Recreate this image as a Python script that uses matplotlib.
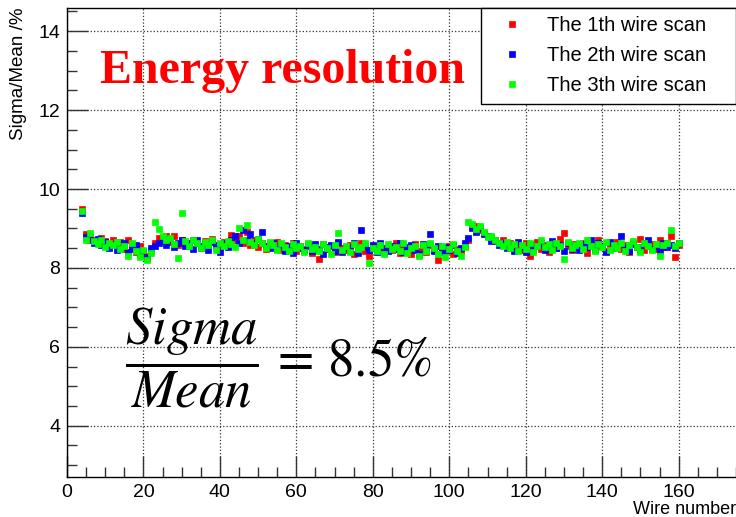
import numpy as np
import matplotlib
matplotlib.use("Agg")
from matplotlib import pyplot as plt
from matplotlib.ticker import MultipleLocator

wires = np.arange(4, 161)

scan1 = [9.50, 8.85, 8.78, 8.70, 8.62, 8.75, 8.68, 8.55, 8.72, 8.60,
         8.65, 8.48, 8.70, 8.52, 8.40, 8.55, 8.35, 8.30, 8.42, 8.62,
         8.75, 8.70, 8.82, 8.66, 8.80, 8.58, 8.72, 8.64, 8.55, 8.70,
         8.62, 8.50, 8.68, 8.58, 8.74, 8.52, 8.60, 8.66, 8.55, 8.84,
         8.72, 8.80, 8.64, 8.90, 8.58, 8.70, 8.52, 8.62, 8.48, 8.60,
         8.55, 8.66, 8.45, 8.58, 8.50, 8.62, 8.42, 8.56, 8.48, 8.60,
         8.38, 8.52, 8.23, 8.60, 8.48, 8.56, 8.40, 8.62, 8.50, 8.45,
         8.58, 8.35, 8.52, 8.64, 8.42, 8.30, 8.55, 8.48, 8.60, 8.40,
         8.52, 8.45, 8.62, 8.38, 8.56, 8.48, 8.35, 8.60, 8.44, 8.52,
         8.40, 8.58, 8.46, 8.19, 8.50, 8.42, 8.55, 8.36, 8.48, 8.44,
         8.56, 8.70, 9.10, 9.05, 8.95, 8.88, 8.80, 8.75, 8.68, 8.62,
         8.70, 8.55, 8.64, 8.50, 8.58, 8.45, 8.62, 8.30, 8.52, 8.66,
         8.48, 8.58, 8.40, 8.62, 8.50, 8.74, 8.88, 8.56, 8.45, 8.60,
         8.52, 8.64, 8.38, 8.58, 8.46, 8.70, 8.55, 8.42, 8.60, 8.50,
         8.66, 8.48, 8.58, 8.40, 8.62, 8.52, 8.74, 8.45, 8.56, 8.60,
         8.48, 8.70, 8.52, 8.62, 8.82, 8.27, 8.58]

scan2 = [9.40, 8.78, 8.70, 8.62, 8.74, 8.58, 8.66, 8.50, 8.60, 8.45,
         8.55, 8.62, 8.40, 8.48, 8.58, 8.35, 8.44, 8.26, 8.50, 8.55,
         8.62, 8.68, 8.58, 8.74, 8.52, 8.64, 8.70, 8.56, 8.62, 8.48,
         8.70, 8.55, 8.60, 8.45, 8.66, 8.58, 8.40, 8.62, 8.54, 8.72,
         8.80, 8.64, 8.96, 8.70, 8.85, 8.62, 8.74, 8.90, 8.56, 8.50,
         8.62, 8.48, 8.58, 8.44, 8.55, 8.38, 8.62, 8.50, 8.46, 8.56,
         8.42, 8.60, 8.48, 8.36, 8.52, 8.58, 8.44, 8.66, 8.40, 8.54,
         8.50, 8.62, 8.38, 8.96, 8.55, 8.46, 8.58, 8.40, 8.64, 8.50,
         8.44, 8.56, 8.48, 8.62, 8.40, 8.52, 8.58, 8.45, 8.36, 8.60,
         8.50, 8.87, 8.44, 8.56, 8.40, 8.52, 8.46, 8.58, 8.38, 8.50,
         8.62, 8.75, 9.00, 8.90, 9.02, 8.85, 8.80, 8.68, 8.72, 8.58,
         8.62, 8.50, 8.58, 8.44, 8.66, 8.52, 8.40, 8.60, 8.48, 8.56,
         8.62, 8.45, 8.55, 8.68, 8.50, 8.58, 8.42, 8.64, 8.48, 8.55,
         8.45, 8.60, 8.52, 8.70, 8.48, 8.62, 8.56, 8.40, 8.66, 8.52,
         8.58, 8.82, 8.50, 8.44, 8.60, 8.54, 8.46, 8.62, 8.70, 8.48,
         8.56, 8.44, 8.62, 8.52, 8.58, 8.50, 8.62]

scan3 = [9.45, 8.72, 8.88, 8.68, 8.60, 8.70, 8.52, 8.64, 8.58, 8.66,
         8.48, 8.56, 8.30, 8.62, 8.42, 8.28, 8.46, 8.20, 8.38, 9.16,
         8.98, 8.80, 8.70, 8.76, 8.60, 8.25, 9.40, 8.68, 8.56, 8.72,
         8.62, 8.50, 8.66, 8.58, 8.70, 8.46, 8.62, 8.55, 8.68, 8.60,
         8.52, 9.02, 8.72, 9.08, 8.66, 8.58, 8.74, 8.62, 8.50, 8.66,
         8.58, 8.46, 8.62, 8.52, 8.44, 8.60, 8.50, 8.56, 8.40, 8.62,
         8.48, 8.54, 8.42, 8.60, 8.50, 8.36, 8.58, 8.88, 8.46, 8.55,
         8.40, 8.60, 8.48, 8.52, 8.62, 8.12, 8.50, 8.44, 8.58, 8.36,
         8.60, 8.48, 8.54, 8.42, 8.62, 8.38, 8.50, 8.56, 8.30, 8.58,
         8.44, 8.62, 8.50, 8.36, 8.55, 8.28, 8.48, 8.60, 8.42, 8.30,
         8.52, 9.17, 9.12, 8.98, 9.05, 8.92, 8.78, 8.82, 8.70, 8.62,
         8.56, 8.66, 8.50, 8.60, 8.42, 8.58, 8.48, 8.64, 8.40, 8.55,
         8.70, 8.52, 8.60, 8.46, 8.62, 8.56, 8.23, 8.66, 8.50, 8.58,
         8.62, 8.48, 8.70, 8.55, 8.42, 8.60, 8.52, 8.66, 8.46, 8.58,
         8.50, 8.64, 8.44, 8.58, 8.68, 8.52, 8.40, 8.62, 8.55, 8.46,
         8.60, 8.30, 8.58, 8.62, 8.96, 8.55, 8.64]

labels = ["The 1th wire scan", "The 2th wire scan", "The 3th wire scan"]
colors = ["#ff0000", "#0000ff", "#00ff00"]

plt.rcParams['font.family'] = ['Liberation Sans', 'DejaVu Sans']
plt.rcParams['mathtext.fontset'] = 'stix'

fig = plt.figure(figsize=(7.36, 5.17), dpi=100)
ax = fig.add_axes([0.091, 0.0774, 0.909, 0.908])

for ys, c, lab in zip([scan1, scan2, scan3], colors, labels):
    ax.plot(wires, ys, ls='none', marker='s', ms=4.8, mec=c, mfc=c,
            mew=0.5, label=lab)

ax.set_xlim(0, 175)
ax.set_ylim(2.7, 14.6)
ax.xaxis.set_major_locator(MultipleLocator(20))
ax.xaxis.set_minor_locator(MultipleLocator(5))
ax.yaxis.set_major_locator(MultipleLocator(2))
ax.yaxis.set_minor_locator(MultipleLocator(0.5))
ax.tick_params(which='both', direction='in', top=False, right=False,
               labelsize=14, color='#333333')
ax.tick_params(which='major', length=15, width=1.0, pad=5)
ax.tick_params(which='minor', length=7.5, width=1.0)
ax.grid(True, which='major', ls=':', color='#333333', lw=0.9)
ax.set_axisbelow(True)
ax.spines['right'].set_visible(False)
for s in ['left', 'bottom', 'top']:
    ax.spines[s].set_linewidth(1.0)

ax.set_xlabel("Wire number", fontsize=13, loc='right', labelpad=0)
ax.set_ylabel("Sigma/Mean /%", fontsize=13.5, loc='top', labelpad=8)

ax.text(0.05, 0.912, "Energy resolution", transform=ax.transAxes,
        fontsize=34.5, color='red', fontweight='bold',
        family='Liberation Serif', va='top', ha='left')
ax.text(0.087, 0.255, r'$\dfrac{Sigma}{Mean}\,=\,\mathrm{8.5\%}$',
        transform=ax.transAxes, fontsize=38, va='center', ha='left')

leg = ax.legend(loc='upper left', bbox_to_anchor=(0.619, 0.805, 0.381, 0.195),
                mode='expand', borderaxespad=0, fancybox=False, framealpha=1,
                edgecolor='black', fontsize=14.5, handlelength=2.2,
                handletextpad=0.65, labelspacing=0.55, borderpad=0.42,
                markerscale=0.85)
leg.get_frame().set_linewidth(1.0)

fig.savefig("out.png", dpi=100)
